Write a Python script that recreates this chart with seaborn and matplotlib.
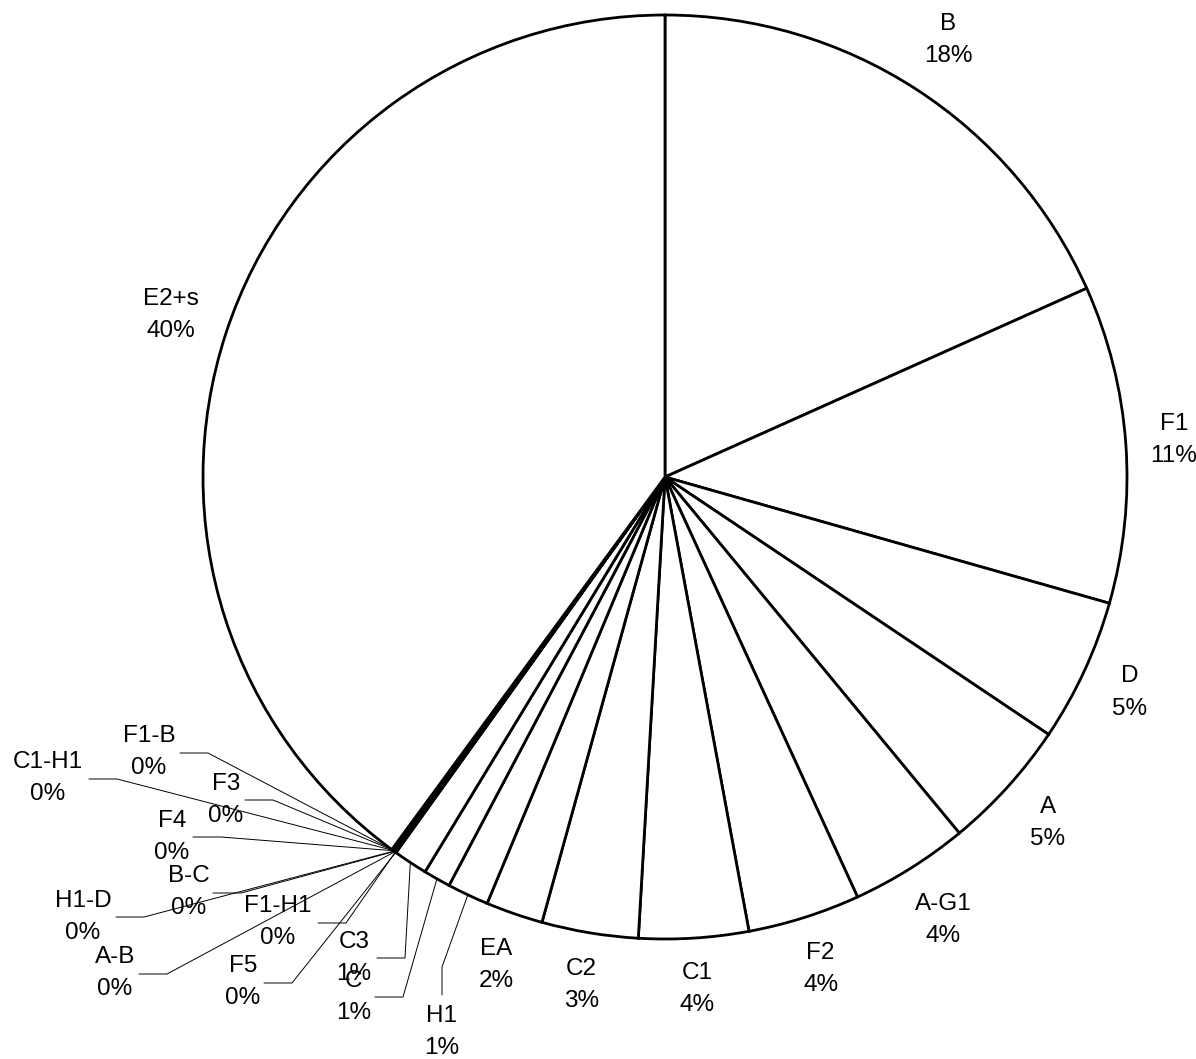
import numpy as np
import matplotlib
matplotlib.use("Agg")
import matplotlib.pyplot as plt
import seaborn as sns

sns.set_theme(style="white")
plt.rcParams["font.family"] = ["Liberation Sans", "DejaVu Sans"]

# Category shares (percent), clockwise from 12 o'clock
categories = ["B", "F1", "D", "A", "A-G1", "F2", "C1", "C2", "EA", "H1", "C", "C3",
              "F5", "F1-H1", "A-B", "B-C", "H1-D", "F4", "C1-H1", "F3", "F1-B", "E2+s"]
shares = [18.3, 11.1, 5.0, 4.6, 4.15, 3.93, 3.83, 3.37, 2.0, 1.45, 0.95, 1.2,
          0.02, 0.02, 0.02, 0.02, 0.02, 0.02, 0.02, 0.02, 0.02, 39.92]

W, H = 1196, 1059
fig = plt.figure(figsize=(W / 100, H / 100), dpi=100)
ax = fig.add_axes([0, 0, 1, 1])

cx, cy, R = 665, H - 477, 462
wedges, _ = ax.pie(shares, radius=R, center=(cx, cy), startangle=90,
                   counterclock=False,
                   wedgeprops=dict(facecolor="white", edgecolor="black",
                                   linewidth=2.0))
ax.set_xlim(0, W)
ax.set_ylim(0, H)
ax.set_aspect("equal")
ax.axis("off")

# Labels placed away from the pie with leader lines:
# text centre (x, y from top), leader start, elbow direction
leader_layout = {
    "C3":    ((354, 958), (377, 958), "h"),
    "C":     ((354, 997), (375, 997), "h"),
    "H1":    ((442, 1032), (442, 995), "v"),
    "F5":    ((243, 982), (264, 983), "h"),
    "F1-H1": ((278, 922), (318, 923), "h"),
    "A-B":   ((115, 973), (139, 974), "h"),
    "B-C":   ((189, 892), (213, 893), "h"),
    "H1-D":  ((83, 917), (116, 917), "h"),
    "F4":    ((172, 837), (193, 837), "h"),
    "C1-H1": ((48, 778), (89, 779), "h"),
    "F3":    ((226, 800), (245, 800), "h"),
    "F1-B":  ((149, 752), (180, 753), "h"),
}

total = sum(shares)
text_kw = dict(ha="center", va="center", fontsize=17.5, linespacing=1.6,
               color="black")
renderer = fig.canvas.get_renderer()
gap = 23

for w, name, val in zip(wedges, categories, shares):
    mid = np.deg2rad((w.theta1 + w.theta2) / 2)
    label = f"{name}\n{round(val / total * 100):d}%"
    rim = (cx + R * np.cos(mid), cy + R * np.sin(mid))
    if name in leader_layout:
        (tx, ty), (sx, sy), mode = leader_layout[name]
        sy = H - sy
        elbow = (sx + 28, sy) if mode == "h" else (sx, sy + 28)
        ax.plot([sx, elbow[0], rim[0]], [sy, elbow[1], rim[1]],
                color="black", lw=0.7, zorder=1)
        ax.text(tx, H - ty, label, **text_kw)
    else:
        t = ax.text(cx, cy, label, **text_kw)
        bb = t.get_window_extent(renderer)
        half_w, half_h = bb.width / 2, bb.height / 2
        r_lab = R + gap + half_w * abs(np.cos(mid)) + half_h * abs(np.sin(mid))
        t.set_position((cx + r_lab * np.cos(mid), cy + r_lab * np.sin(mid)))

fig.savefig("out.png", dpi=100, facecolor="white")
